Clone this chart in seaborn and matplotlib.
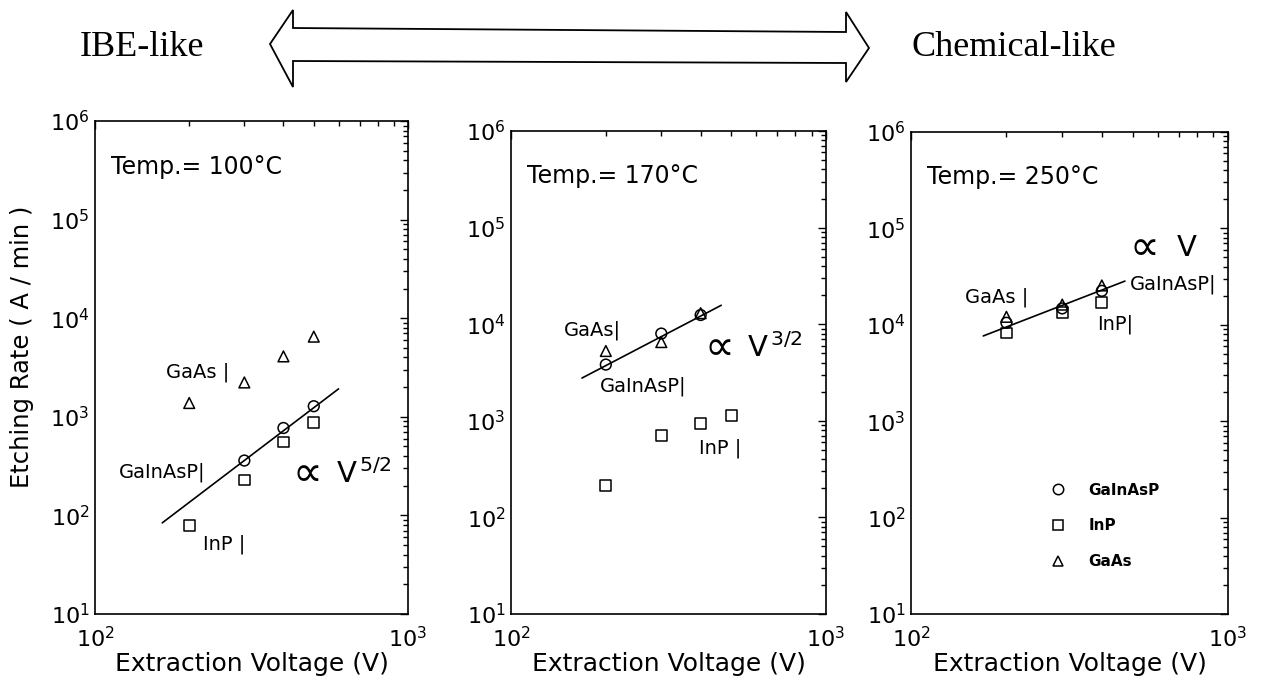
import numpy as np
import pandas as pd
import matplotlib
matplotlib.use("Agg")
import matplotlib.pyplot as plt
import matplotlib.transforms as mtransforms
from matplotlib.ticker import LogLocator, LogFormatterSciNotation, NullFormatter
from matplotlib.patches import Polygon
from matplotlib.lines import Line2D
import seaborn as sns

# ---------------- data ----------------
materials = ["GaInAsP", "InP", "GaAs"]
marker_map = {"GaInAsP": "o", "InP": "s", "GaAs": "^"}

# 100 C
t100_gainasp_v = [300, 400, 500]
t100_gainasp = [360, 770, 1280]
t100_inp_v = [200, 300, 400, 500]
t100_inp = [79, 228, 555, 870]
t100_gaas_v = [200, 300, 400, 500]
t100_gaas = [1380, 2230, 4100, 6500]
t100_fit_v = [164, 600]
t100_fit = [84, 1920]

# 170 C
t170_gainasp_v = [200, 300, 400]
t170_gainasp = [3820, 8000, 12450]
t170_inp_v = [200, 300, 400, 500]
t170_inp = [214, 705, 940, 1130]
t170_gaas_v = [200, 300, 400]
t170_gaas = [5280, 6530, 13000]
t170_fit_v = [168, 465]
t170_fit = [2770, 15700]

# 250 C
t250_gainasp_v = [200, 300, 400]
t250_gainasp = [10500, 14800, 22500]
t250_inp_v = [200, 300, 400]
t250_inp = [8200, 13500, 17000]
t250_gaas_v = [200, 300, 400]
t250_gaas = [12100, 16200, 25600]
t250_fit_v = [169, 473]
t250_fit = [7660, 28400]

temps = ["Temp.= 100°C", "Temp.= 170°C", "Temp.= 250°C"]
slopes = [r"V$^{\,5/2}$", r"V$^{\,3/2}$", "V"]
x_label = "Extraction Voltage (V)"
y_label = "Etching Rate ( A / min )"
left_title = "IBE-like"
right_title = "Chemical-like"


def frame(gv, g, iv, i, av, a):
    return pd.concat([
        pd.DataFrame({"voltage": gv, "rate": g, "material": "GaInAsP"}),
        pd.DataFrame({"voltage": iv, "rate": i, "material": "InP"}),
        pd.DataFrame({"voltage": av, "rate": a, "material": "GaAs"}),
    ], ignore_index=True)


panels = [
    dict(df=frame(t100_gainasp_v, t100_gainasp, t100_inp_v, t100_inp, t100_gaas_v, t100_gaas),
         fit=pd.DataFrame({"voltage": t100_fit_v, "rate": t100_fit}),
         temp=temps[0], slope=slopes[0], prop_xy=(428, 261), v_x=590,
         notes=[("GaAs |", 168, 2800), ("GaInAsP|", 119, 274), ("InP |", 221, 51)]),
    dict(df=frame(t170_gainasp_v, t170_gainasp, t170_inp_v, t170_inp, t170_gaas_v, t170_gaas),
         fit=pd.DataFrame({"voltage": t170_fit_v, "rate": t170_fit}),
         temp=temps[1], slope=slopes[1], prop_xy=(412, 5690), v_x=562,
         notes=[("GaAs|", 147, 8600), ("GaInAsP|", 192, 2260), ("InP |", 394, 515)]),
    dict(df=frame(t250_gainasp_v, t250_gainasp, t250_inp_v, t250_inp, t250_gaas_v, t250_gaas),
         fit=pd.DataFrame({"voltage": t250_fit_v, "rate": t250_fit}),
         temp=temps[2], slope=slopes[2], prop_xy=(488, 63000), v_x=688,
         notes=[("GaAs |", 148, 19100), ("GaInAsP|", 490, 26400), ("InP|", 387, 10070)]),
]

# ---------------- style ----------------
sns.set_style("white")
plt.rcParams["font.family"] = ["DejaVu Sans"]
plt.rcParams["mathtext.fontset"] = "dejavusans"
plt.rcParams["axes.linewidth"] = 1.2
for key in ["text.color", "axes.labelcolor", "xtick.color", "ytick.color", "axes.edgecolor"]:
    plt.rcParams[key] = "black"

W, H = 1266, 696
fig = plt.figure(figsize=(W / 100, H / 100), dpi=100)

# axes boxes in pixels: left, right, top, bottom
boxes = [(95, 408, 121, 614), (511, 826, 131, 614), (911, 1228, 132, 614)]

for k, (p, (l, r, t, b)) in enumerate(zip(panels, boxes)):
    ax = fig.add_axes([l / W, (H - b) / H, (r - l) / W, (b - t) / H])
    ax.set_xscale("log")
    ax.set_yscale("log")

    sns.lineplot(data=p["fit"], x="voltage", y="rate", color="black", lw=1.2, ax=ax)
    sns.scatterplot(data=p["df"], x="voltage", y="rate", style="material",
                    markers=marker_map, style_order=materials, s=60,
                    facecolors="none", edgecolor="black", linewidth=1.1,
                    color="black", legend=False, ax=ax)

    ax.set_xlim(100, 1000)
    ax.set_ylim(10, 1e6)
    ax.xaxis.set_major_locator(LogLocator(base=10, numticks=10))
    ax.yaxis.set_major_locator(LogLocator(base=10, numticks=10))
    ax.xaxis.set_minor_locator(LogLocator(base=10, subs=np.arange(2, 10), numticks=20))
    ax.yaxis.set_minor_locator(LogLocator(base=10, subs=np.arange(2, 10), numticks=20))
    ax.xaxis.set_major_formatter(LogFormatterSciNotation())
    ax.yaxis.set_major_formatter(LogFormatterSciNotation())
    ax.xaxis.set_minor_formatter(NullFormatter())
    ax.yaxis.set_minor_formatter(NullFormatter())

    ax.tick_params(which="both", direction="in", top=True, right=True, width=1.0,
                   colors="black", labelsize=16)
    ax.tick_params(which="major", length=6)
    ax.tick_params(which="minor", length=3.5)
    ax.tick_params(axis="x", which="major", pad=9)
    ax.tick_params(axis="y", which="major", pad=4)
    for sp in ax.spines.values():
        sp.set_color("black")
        sp.set_linewidth(1.2)

    ax.set_xlabel(x_label, fontsize=18)
    ax.xaxis.set_label_coords(0.5, 1 - 652 / H,
                              transform=mtransforms.blended_transform_factory(ax.transAxes, fig.transFigure))
    if k == 0:
        ax.set_ylabel(y_label, fontsize=17.5)
        ax.yaxis.set_label_coords(34 / W, 1 - 347 / H, transform=fig.transFigure)
    else:
        ax.set_ylabel("")

    ax.text(0.05, 0.907, p["temp"], transform=ax.transAxes, fontsize=17,
            ha="left", va="center")
    for txt, xv, yv in p["notes"]:
        ax.text(xv, yv, txt, fontsize=14, ha="left", va="center")
    px, py = p["prop_xy"]
    ax.text(px, py, "∝", fontsize=30, ha="left", va="center")
    ax.text(p["v_x"], py, p["slope"], fontsize=21, ha="left", va="center")

    if k == 2:
        handles = [Line2D([], [], marker=marker_map[m], ls="none", mfc="none",
                          mec="black", ms=7.5, mew=1.1) for m in materials]
        ax.legend(handles, materials, loc="center", bbox_to_anchor=(0.6, 0.183),
                  frameon=False, prop={"size": 11, "weight": "bold"},
                  labelspacing=1.35, handletextpad=1.0, borderpad=0, handlelength=2)

# ---------------- header: double hollow arrow and titles ----------------
arrow_px = [(270, 44), (293, 10), (293, 28), (846, 32), (846, 12), (869, 48),
            (846, 82), (846, 63), (293, 61), (293, 87)]
arrow = Polygon([(x / W, 1 - y / H) for x, y in arrow_px], closed=True,
                fill=False, edgecolor="black", lw=1.3, transform=fig.transFigure)
fig.add_artist(arrow)
fig.text(142 / W, 1 - 47 / H, left_title, fontsize=26, family="Liberation Serif",
         ha="center", va="center")
fig.text(1014 / W, 1 - 48 / H, right_title, fontsize=26, family="Liberation Serif",
         ha="center", va="center")

fig.savefig("out.png", dpi=100)
